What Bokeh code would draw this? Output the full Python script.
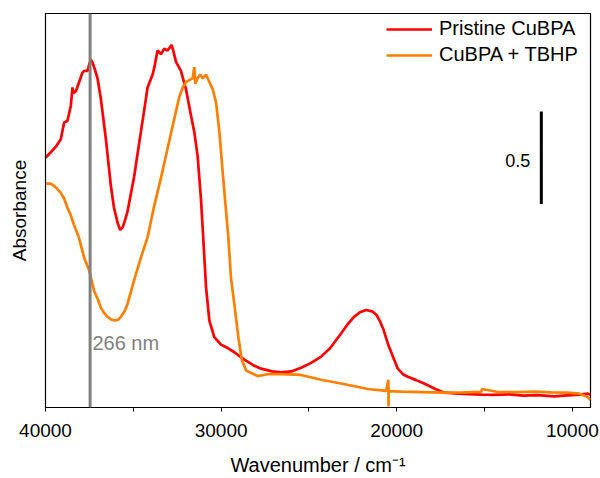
from bokeh.plotting import figure
from bokeh.models import Range1d, FixedTicker, Span, Label, Legend, LegendItem
from bokeh.embed import file_html
from bokeh.resources import INLINE

# ---- data ----
red_wn = [40000, 39700, 39410, 39130, 38940, 38750, 38560, 38460, 38420, 38270, 38085, 37900, 37800,
          37600, 37500, 37420, 37350, 37230, 37040, 36850, 36560, 36280, 36100, 35900, 35750, 35600,
          35450, 35330, 34950, 34570, 34280, 34190, 33900, 33800, 33620, 33430, 33240, 33050, 32820,
          32700, 32575, 32290, 32000, 31720, 31530, 31340, 31150, 31020, 30860, 30670, 30390, 30010,
          29600, 29270, 28700, 28200, 27730, 27100, 26590, 26000, 25450, 24900, 24310, 23800, 23170,
          22800, 22430, 22100, 21740, 21400, 21150, 20980, 20750, 20490, 20200, 19940, 19650, 19370,
          18900, 18440, 17800, 17280, 16500, 15190, 14500, 13600, 12800, 12000, 11030, 10300, 9600,
          9110, 8970]
red_abs = [1.35, 1.38, 1.41, 1.45, 1.54, 1.55, 1.63, 1.73, 1.70, 1.71, 1.76, 1.81, 1.82,
           1.82, 1.86, 1.88, 1.87, 1.84, 1.78, 1.67, 1.45, 1.20, 1.08, 1.00, 0.96, 0.975,
           1.02, 1.06, 1.25, 1.49, 1.67, 1.73, 1.80, 1.84, 1.93, 1.91, 1.94, 1.93, 1.96,
           1.92, 1.87, 1.82, 1.72, 1.58, 1.49, 1.36, 1.13, 0.92, 0.65, 0.47, 0.38, 0.34,
           0.32, 0.30, 0.26, 0.23, 0.21, 0.195, 0.19, 0.195, 0.215, 0.24, 0.275, 0.32, 0.40,
           0.45, 0.49, 0.515, 0.527, 0.52, 0.50, 0.47, 0.42, 0.34, 0.27, 0.21, 0.18, 0.166,
           0.148, 0.13, 0.10, 0.08, 0.075, 0.07, 0.068, 0.071, 0.064, 0.067, 0.06, 0.066, 0.07,
           0.075, 0.068]

ora_wn = [40000, 39700, 39410, 39130, 38940, 38750, 38560, 38390, 38100, 37800, 37510, 37230,
          37000, 36850, 36650, 36470, 36250, 36030, 35850, 35710, 35500, 35330, 34950, 34570,
          34190, 33810, 33430, 33050, 32670, 32380, 32190, 32000, 31810, 31620, 31530, 31470,
          31340, 31190, 31050, 30860, 30670, 30480, 30290, 30100, 29910, 29720, 29590, 29440,
          29250, 29020, 28830, 28580, 27920, 27350, 26590, 25450, 24310, 23170, 22400, 21650,
          20600, 20480, 20470, 20460, 20440, 19750, 18500, 17280, 16200, 15190, 15150, 14300,
          13200, 12160, 11200, 10300, 9600, 9110, 8970]
ora_abs = [1.21, 1.21, 1.19, 1.16, 1.13, 1.08, 1.04, 0.99, 0.92, 0.81, 0.74, 0.63,
           0.58, 0.54, 0.51, 0.49, 0.475, 0.47, 0.475, 0.49, 0.52, 0.56, 0.69, 0.81,
           0.92, 1.09, 1.24, 1.40, 1.56, 1.68, 1.73, 1.76, 1.77, 1.78, 1.84, 1.75,
           1.78, 1.80, 1.78, 1.80, 1.76, 1.72, 1.65, 1.49, 1.27, 1.06, 0.92, 0.70,
           0.56, 0.38, 0.26, 0.20, 0.17, 0.18, 0.18, 0.176, 0.15, 0.13, 0.115, 0.10,
           0.09, 0.15, 0.005, 0.10, 0.088, 0.086, 0.083, 0.08, 0.082, 0.084, 0.10, 0.085,
           0.083, 0.086, 0.082, 0.08, 0.075, 0.055, 0.04]

line_266nm = 37460          # 266 nm marker position (cm-1)
scale_x = 11770             # scale bar position (cm-1)
scale_y = [1.10, 1.60]      # scale bar: 0.5 absorbance units

x_ticks = [40000, 30000, 20000, 10000]
x_minor = [35000, 25000, 15000]

FONT = "Liberation Sans"

p = figure(width=600, height=478, output_backend="svg", toolbar_location=None,
           x_range=Range1d(40000, 8970), y_range=Range1d(0, 2.13),
           min_border_left=45, min_border_right=10, min_border_top=13, min_border_bottom=67)
p.grid.visible = False
p.outline_line_color = "black"
p.outline_line_width = 1.2
p.background_fill_color = "white"
p.border_fill_color = "white"

# x axis
p.xaxis.ticker = FixedTicker(ticks=x_ticks, minor_ticks=x_minor)
p.xaxis.major_tick_out = 4
p.xaxis.major_tick_in = 0
p.xaxis.minor_tick_out = 4
p.xaxis.minor_tick_in = 0
p.xaxis.axis_line_color = "black"
p.xaxis.major_tick_line_color = "black"
p.xaxis.minor_tick_line_color = "black"
p.xaxis.major_label_text_font = FONT
p.xaxis.major_label_text_font_size = "19px"
p.xaxis.major_label_text_color = "black"
p.xaxis.major_label_standoff = 12
p.xaxis.axis_label = "Wavenumber / cm⁻¹"
p.xaxis.axis_label_text_font = FONT
p.xaxis.axis_label_text_font_size = "20px"
p.xaxis.axis_label_text_font_style = "normal"
p.xaxis.axis_label_text_color = "black"
p.xaxis.axis_label_standoff = 14

# y axis (no ticks)
p.yaxis.ticker = FixedTicker(ticks=[])
p.yaxis.major_tick_out = 0
p.yaxis.major_tick_in = 0
p.yaxis.minor_tick_out = 0
p.yaxis.minor_tick_in = 0
p.yaxis.major_label_standoff = 0
p.yaxis.axis_label = "Absorbance"
p.yaxis.axis_label_text_font = FONT
p.yaxis.axis_label_text_font_size = "19px"
p.yaxis.axis_label_text_font_style = "normal"
p.yaxis.axis_label_text_color = "black"
p.yaxis.axis_label_standoff = 16

# 266 nm marker
p.add_layout(Span(location=line_266nm, dimension="height", line_color="#808080", line_width=3))
p.add_layout(Label(x=37330, y=0.348, text="266 nm", text_font=FONT, text_font_size="20px",
                   text_color="#808080", text_baseline="middle", text_align="left"))

r1 = p.line(red_wn, red_abs, line_color="#FF0000", line_width=2.7)
r2 = p.line(ora_wn, ora_abs, line_color="#FF8000", line_width=2.7)

# scale bar
p.segment(x0=[scale_x], y0=[scale_y[0]], x1=[scale_x], y1=[scale_y[1]], line_color="black", line_width=3)
p.add_layout(Label(x=12400, y=1.334, text="0.5", text_font=FONT, text_font_size="18px",
                   text_color="black", text_baseline="middle", text_align="right"))

legend = Legend(items=[LegendItem(label="Pristine CuBPA", renderers=[r1]),
                       LegendItem(label="CuBPA + TBHP", renderers=[r2])],
                location=(341, 341), orientation="vertical")
legend.border_line_color = None
legend.background_fill_alpha = 0
legend.padding = 0
legend.margin = 0
legend.spacing = 3
legend.glyph_width = 46
legend.glyph_height = 20
legend.label_height = 20
legend.label_standoff = 7
legend.label_text_font = FONT
legend.label_text_font_size = "20px"
legend.label_text_color = "black"
p.add_layout(legend)

open("out.html", "w").write(file_html(p, INLINE))
